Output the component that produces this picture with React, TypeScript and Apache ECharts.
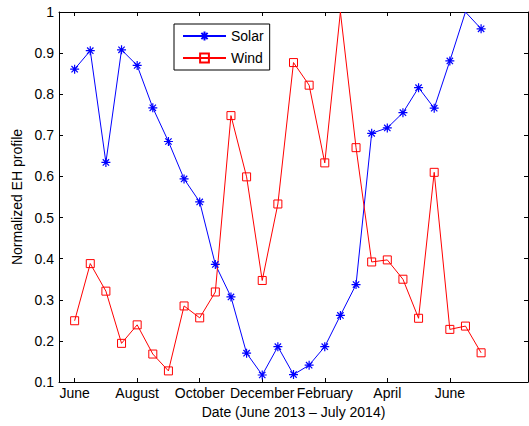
import React, { useEffect, useRef } from "react";
import * as echarts from "echarts";

// Half-monthly samples, June 2013 – July 2014 (index 0 = start of June 2013)
const sampleIndex: number[] = Array.from({ length: 27 }, (_, i) => i);

const solar: number[] = [
  0.861, 0.906, 0.634, 0.908, 0.87, 0.767, 0.685, 0.594, 0.538, 0.386,
  0.307, 0.17, 0.117, 0.186, 0.118, 0.141, 0.186, 0.262, 0.337, 0.705,
  0.718, 0.755, 0.816, 0.766, 0.881, 1.0, 0.959,
];

const wind: number[] = [
  0.249, 0.388, 0.321, 0.194, 0.239, 0.168, 0.127, 0.285, 0.256, 0.319,
  0.748, 0.599, 0.347, 0.533, 0.877, 0.822, 0.633, 1.0, 0.67, 0.392,
  0.397, 0.35, 0.255, 0.61, 0.228, 0.236, 0.171,
];

const tickPositions: number[] = [0, 4, 8, 12, 16, 20, 24];
const tickLabels: string[] = ["June", "August", "October", "December", "February", "April", "June"];

const FONT = "Liberation Sans, Arial, Helvetica, sans-serif";
const ASTERISK =
  "path://M0,-10L0,10M-10,0L10,0M-7.07,-7.07L7.07,7.07M-7.07,7.07L7.07,-7.07";

export default function App() {
  const ref = useRef<HTMLDivElement>(null);
  useEffect(() => {
    if (!ref.current) return;
    const chart = echarts.init(ref.current, null, { renderer: "svg" });
    const solarData = sampleIndex.map((x, i) =>
      solar[i] >= 1 ? { value: [x, solar[i]], symbol: "none" } : [x, solar[i]]
    );
    const windData = sampleIndex.map((x, i) =>
      wind[i] >= 1 ? { value: [x, wind[i]], symbol: "none" } : [x, wind[i]]
    );
    const labelFor = (v: number) => {
      const k = tickPositions.indexOf(Math.round(v));
      return k >= 0 ? tickLabels[k] : "";
    };
    chart.setOption({
      animation: false,
      backgroundColor: "#ffffff",
      textStyle: { fontFamily: FONT },
      grid: { left: 59, right: 1, top: 12, bottom: 44, containLabel: false, outerBoundsMode: "none" },
      legend: {
        orient: "vertical",
        left: 174,
        top: 24,
        backgroundColor: "#ffffff",
        borderColor: "#000000",
        borderWidth: 1,
        borderRadius: 0,
        padding: [5, 6, 5, 8],
        itemWidth: 43,
        itemHeight: 11,
        itemGap: 8,
        textStyle: { fontSize: 14, color: "#000", fontFamily: FONT },
        data: ["Solar", "Wind"],
      },
      xAxis: [
        {
          type: "value",
          min: -1,
          max: 29,
          name: "Date (June 2013 \u2013 July 2014)",
          nameLocation: "middle",
          nameGap: 21,
          nameTextStyle: { fontSize: 14, color: "#000", fontFamily: FONT },
          axisLine: { show: true, onZero: false, lineStyle: { color: "#000", width: 1 } },
          axisTick: { show: true, inside: true, length: 4, customValues: tickPositions, lineStyle: { color: "#000" } },
          axisLabel: {
            show: true,
            customValues: tickPositions,
            formatter: (v: number) => labelFor(v),
            fontSize: 14,
            color: "#000",
            margin: 4,
            hideOverlap: false,
            fontFamily: FONT,
          },
          splitLine: { show: false },
        },
        {
          type: "value",
          position: "top",
          min: -1,
          max: 29,
          axisLine: { show: true, onZero: false, lineStyle: { color: "#000", width: 1 } },
          axisTick: { show: true, inside: true, length: 4, customValues: tickPositions, lineStyle: { color: "#000" } },
          axisLabel: { show: false },
          splitLine: { show: false },
        },
      ],
      yAxis: [
        {
          type: "value",
          min: 0.1,
          max: 1,
          interval: 0.1,
          name: "Normalized EH profile",
          nameLocation: "middle",
          nameGap: 26,
          nameRotate: 90,
          nameTextStyle: { fontSize: 14, color: "#000", fontFamily: FONT },
          axisLine: { show: true, onZero: false, lineStyle: { color: "#000", width: 1 } },
          axisTick: { show: true, inside: true, length: 4, lineStyle: { color: "#000" } },
          axisLabel: {
            fontSize: 14,
            color: "#000",
            margin: 5,
            fontFamily: FONT,
            formatter: (v: number) => String(Math.round(v * 10) / 10),
          },
          splitLine: { show: false },
        },
        {
          type: "value",
          position: "right",
          min: 0.1,
          max: 1,
          interval: 0.1,
          axisLine: { show: true, onZero: false, lineStyle: { color: "#000", width: 1 } },
          axisTick: { show: true, inside: true, length: 4, lineStyle: { color: "#000" } },
          axisLabel: { show: false },
          splitLine: { show: false },
        },
      ],
      series: [
        {
          name: "Solar",
          type: "line",
          data: solarData,
          symbol: ASTERISK,
          symbolSize: 9,
          clip: true,
          lineStyle: { color: "#0000ff", width: 1 },
          itemStyle: { color: "#0000ff", borderColor: "#0000ff", borderWidth: 1.2 },
          emphasis: { disabled: true },
        },
        {
          name: "Wind",
          type: "line",
          data: windData,
          symbol: "rect",
          symbolSize: 8,
          clip: true,
          lineStyle: { color: "#ff0000", width: 1 },
          itemStyle: { color: "none", borderColor: "#ff0000", borderWidth: 1 },
          emphasis: { disabled: true },
        },
      ],
    });
    return () => chart.dispose();
  }, []);
  return (
    <div
      ref={ref}
      style={{ position: "fixed", left: 0, top: 0, width: 529, height: 426 }}
    />
  );
}
